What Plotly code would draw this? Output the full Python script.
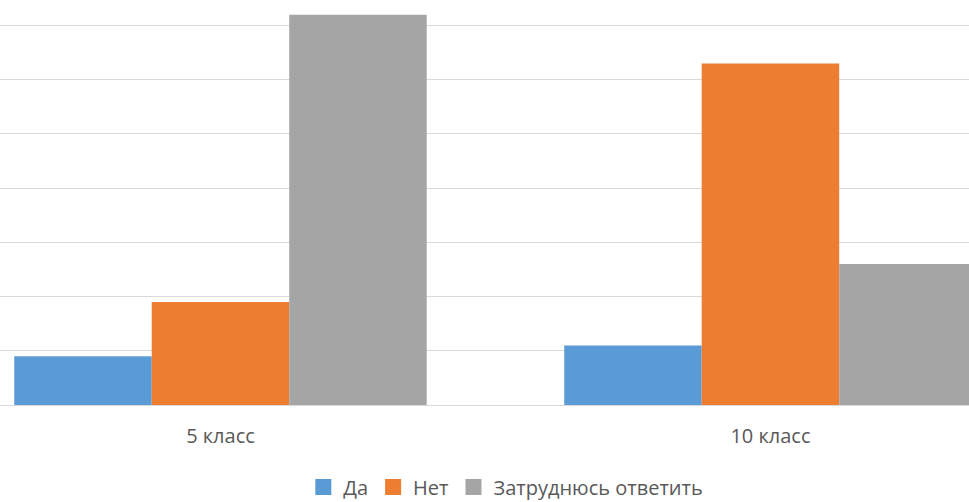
import plotly.graph_objects as go

categories = ["5 класс", "10 класс"]
series_names = ["Да", "Нет", "Затруднюсь ответить"]
da = [9, 11]
net = [19, 63]
zatr = [72, 26]
colors = ["#5B9BD5", "#ED7D31", "#A5A5A5"]

fig = go.Figure()
for name, vals, col in zip(series_names, [da, net, zatr], colors):
    fig.add_trace(go.Bar(x=categories, y=vals, name=name, marker_color=col,
                         marker_line_width=0, showlegend=False, legendgroup=name))

# larger square swatches for the legend
for name, col in zip(series_names, colors):
    fig.add_trace(go.Scatter(x=[None], y=[None], mode="markers", name=name,
                             legendgroup=name,
                             marker=dict(symbol="square", size=18, color=col)))

fig.update_layout(
    width=969, height=502,
    margin=dict(l=0, r=0, t=0, b=97, autoexpand=False),
    paper_bgcolor="white", plot_bgcolor="white",
    barmode="group", bargap=0.25, bargroupgap=0,
    font=dict(family="Open Sans, Noto Sans, sans-serif", size=20, color="#595959"),
    showlegend=True,
    legend=dict(orientation="h", x=0.522, xanchor="center",
                yref="container", y=0.03, yanchor="middle",
                font=dict(size=20, color="#595959"), itemwidth=30,
                traceorder="normal", tracegroupgap=0),
)
fig.update_xaxes(range=[-0.4009, 1.361], showgrid=False, showline=True,
                 linecolor="#d9d9d9", linewidth=1, ticks="", ticklabelstandoff=13,
                 automargin=False, tickfont=dict(size=20, color="#595959"))
fig.update_yaxes(range=[0, 74.72], dtick=10, showgrid=True, gridcolor="#d9d9d9",
                 gridwidth=1, showticklabels=False, zeroline=False, showline=False,
                 automargin=False)

fig.write_html("out.html")
